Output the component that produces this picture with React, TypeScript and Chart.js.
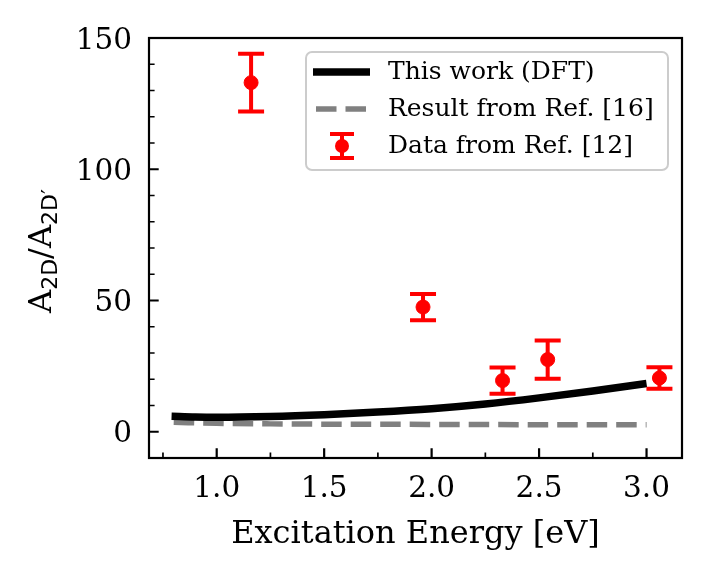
import React, { useEffect, useRef } from 'react';
import { Chart, registerables } from 'chart.js';

Chart.register(...registerables);

// Calculated curve (This work, DFT)
const dftX = [0.79, 0.9, 1.0, 1.25, 1.5, 1.75, 2.0, 2.25, 2.5, 2.75, 3.0];
const dftY = [5.9, 5.6, 5.5, 5.8, 6.5, 7.5, 8.8, 10.6, 12.9, 15.5, 18.4];

// Result from Ref. [16]
const refX = [0.8, 1.0, 1.25, 1.5, 2.0, 2.5, 3.0];
const refY = [3.6, 3.2, 3.0, 2.9, 2.8, 2.7, 2.7];

// Measured points, Ref. [12]
const dataX = [1.16, 1.96, 2.33, 2.54, 3.06];
const dataY = [133, 47.5, 19.5, 27.5, 20.5];
const dataErr = [11, 5, 5, 7.3, 4.1];

const xTicks = [1.0, 1.5, 2.0, 2.5, 3.0];
const xMinorTicks = [0.75, 1.25, 1.75, 2.25, 2.75];
const yTicks = [0, 50, 100, 150];
const yMinorTicks = [-10, 10, 20, 30, 40, 60, 70, 80, 90, 110, 120, 130, 140];

const legendLabels = ['This work (DFT)', 'Result from Ref. [16]', 'Data from Ref. [12]'];

const SERIF = '"DejaVu Serif", serif';
const SANS = '"DejaVu Sans", sans-serif';
const RED = '#ff0000';

const toPoints = (xs: number[], ys: number[]) => xs.map((x, i) => ({ x, y: ys[i] }));

// matplotlib-like frame, inward ticks, axis titles and legend
const decorPlugin = {
  id: 'decor',
  beforeDatasetDraw(chart: any, args: any) {
    if (args.index !== 2) return;
    const { ctx } = chart;
    const xs = chart.scales.x;
    const ys = chart.scales.y;
    ctx.save();
    ctx.strokeStyle = RED;
    ctx.lineWidth = 4;
    dataX.forEach((x, i) => {
      const px = xs.getPixelForValue(x);
      const top = ys.getPixelForValue(dataY[i] + dataErr[i]);
      const bot = ys.getPixelForValue(dataY[i] - dataErr[i]);
      ctx.beginPath();
      ctx.moveTo(px, top);
      ctx.lineTo(px, bot);
      ctx.moveTo(px - 13, top);
      ctx.lineTo(px + 13, top);
      ctx.moveTo(px - 13, bot);
      ctx.lineTo(px + 13, bot);
      ctx.stroke();
    });
    ctx.restore();
  },
  afterDraw(chart: any) {
    const { ctx, chartArea: a } = chart;
    const xs = chart.scales.x;
    const ys = chart.scales.y;
    ctx.save();
    ctx.strokeStyle = '#000';
    ctx.lineCap = 'butt';

    // ticks
    const tick = (len: number, w: number, vals: number[], axis: 'x' | 'y') => {
      ctx.lineWidth = w;
      ctx.beginPath();
      vals.forEach((v) => {
        if (axis === 'x') {
          const p = xs.getPixelForValue(v);
          ctx.moveTo(p, a.bottom);
          ctx.lineTo(p, a.bottom - len);
        } else {
          const p = ys.getPixelForValue(v);
          ctx.moveTo(a.left, p);
          ctx.lineTo(a.left + len, p);
        }
      });
      ctx.stroke();
    };
    tick(9.7, 2.2, xTicks, 'x');
    tick(5.6, 1.7, xMinorTicks, 'x');
    tick(9.7, 2.2, yTicks, 'y');
    tick(5.6, 1.7, yMinorTicks, 'y');

    // frame
    ctx.lineWidth = 2.2;
    ctx.strokeRect(a.left, a.top, a.right - a.left, a.bottom - a.top);

    // x title
    ctx.fillStyle = '#000';
    ctx.font = `32px ${SERIF}`;
    ctx.textAlign = 'center';
    ctx.textBaseline = 'alphabetic';
    ctx.fillText('Excitation Energy [eV]', (a.left + a.right) / 2, 543);

    // y title with subscripts: A_{2D}/A_{2D'}
    const parts = [
      { t: 'A', f: `32px ${SERIF}`, dy: 0 },
      { t: '2D', f: `22px ${SANS}`, dy: 6 },
      { t: '/A', f: `32px ${SERIF}`, dy: 0 },
      { t: '2D\u2032', f: `22px ${SANS}`, dy: 6 },
    ];
    let total = 0;
    parts.forEach((p) => {
      ctx.font = p.f;
      total += ctx.measureText(p.t).width;
    });
    ctx.translate(51, 251);
    ctx.rotate(-Math.PI / 2);
    ctx.textAlign = 'left';
    let cx = -total / 2;
    parts.forEach((p) => {
      ctx.font = p.f;
      ctx.fillText(p.t, cx, p.dy);
      cx += ctx.measureText(p.t).width;
    });
    ctx.setTransform(1, 0, 0, 1, 0, 0);
    ctx.scale(chart.currentDevicePixelRatio, chart.currentDevicePixelRatio);

    // legend
    const bx = 306, by = 52, bw = 362, bh = 118;
    ctx.beginPath();
    ctx.roundRect(bx, by, bw, bh, 6);
    ctx.fillStyle = 'rgba(255,255,255,0.8)';
    ctx.fill();
    ctx.strokeStyle = '#cccccc';
    ctx.lineWidth = 2;
    ctx.stroke();

    const rows = [72, 109, 146];
    ctx.strokeStyle = '#000';
    ctx.lineWidth = 7.5;
    ctx.beginPath();
    ctx.moveTo(313, rows[0]);
    ctx.lineTo(370, rows[0]);
    ctx.stroke();

    ctx.strokeStyle = '#808080';
    ctx.lineWidth = 5.5;
    ctx.setLineDash([20.5, 9]);
    ctx.beginPath();
    ctx.moveTo(316, rows[1]);
    ctx.lineTo(370, rows[1]);
    ctx.stroke();
    ctx.setLineDash([]);

    const ex = 342;
    ctx.strokeStyle = RED;
    ctx.lineWidth = 4;
    ctx.beginPath();
    ctx.moveTo(ex, rows[2] - 12);
    ctx.lineTo(ex, rows[2] + 12);
    ctx.moveTo(ex - 12, rows[2] - 12);
    ctx.lineTo(ex + 12, rows[2] - 12);
    ctx.moveTo(ex - 12, rows[2] + 12);
    ctx.lineTo(ex + 12, rows[2] + 12);
    ctx.stroke();
    ctx.fillStyle = RED;
    ctx.beginPath();
    ctx.arc(ex, rows[2], 7, 0, Math.PI * 2);
    ctx.fill();

    ctx.fillStyle = '#000';
    ctx.font = `25px ${SERIF}`;
    ctx.textBaseline = 'middle';
    ctx.textAlign = 'left';
    legendLabels.forEach((l, i) => ctx.fillText(l, 388, rows[i]));
    ctx.restore();
  },
};

const App: React.FC = () => {
  const canvasRef = useRef<HTMLCanvasElement>(null);

  useEffect(() => {
    document.body.style.margin = '0';
    if (!canvasRef.current) return;
    const chart = new Chart(canvasRef.current, {
      type: 'scatter',
      data: {
        datasets: [
          {
            label: legendLabels[0],
            data: toPoints(dftX, dftY),
            showLine: true,
            borderColor: '#000',
            borderWidth: 7.5,
            pointRadius: 0,
            cubicInterpolationMode: 'monotone',
            order: 1,
          },
          {
            label: legendLabels[1],
            data: toPoints(refX, refY),
            showLine: true,
            borderColor: '#808080',
            borderWidth: 5.5,
            borderDash: [20.5, 9],
            pointRadius: 0,
            cubicInterpolationMode: 'monotone',
            order: 2,
          },
          {
            label: legendLabels[2],
            data: toPoints(dataX, dataY),
            showLine: false,
            backgroundColor: RED,
            borderColor: RED,
            pointRadius: 7,
            order: 0,
          },
        ],
      },
      options: {
        animation: false,
        responsive: true,
        maintainAspectRatio: false,
        layout: { padding: { top: 38, right: 25, left: 0, bottom: 0 } },
        plugins: { legend: { display: false }, tooltip: { enabled: false } },
        scales: {
          x: {
            type: 'linear',
            min: 0.685,
            max: 3.165,
            grid: { display: false, drawTicks: false },
            border: { display: false },
            afterBuildTicks: (s: any) => {
              s.ticks = xTicks.map((v) => ({ value: v }));
            },
            afterFit: (s: any) => {
              s.height = 118;
            },
            ticks: {
              padding: 14,
              color: '#000',
              font: { family: SERIF, size: 29.5 },
              callback: (v: any) => Number(v).toFixed(1),
            },
          },
          y: {
            type: 'linear',
            min: -10,
            max: 150,
            grid: { display: false, drawTicks: false },
            border: { display: false },
            afterBuildTicks: (s: any) => {
              s.ticks = yTicks.map((v) => ({ value: v }));
            },
            afterFit: (s: any) => {
              s.width = 149;
            },
            ticks: {
              padding: 17,
              labelOffset: 3,
              color: '#000',
              font: { family: SERIF, size: 29.5 },
            },
          },
        },
      },
      plugins: [decorPlugin],
    });
    return () => chart.destroy();
  }, []);

  return (
    <div style={{ width: 707, height: 576, position: 'relative', background: '#fff' }}>
      <canvas ref={canvasRef}></canvas>
    </div>
  );
};

export default App;
